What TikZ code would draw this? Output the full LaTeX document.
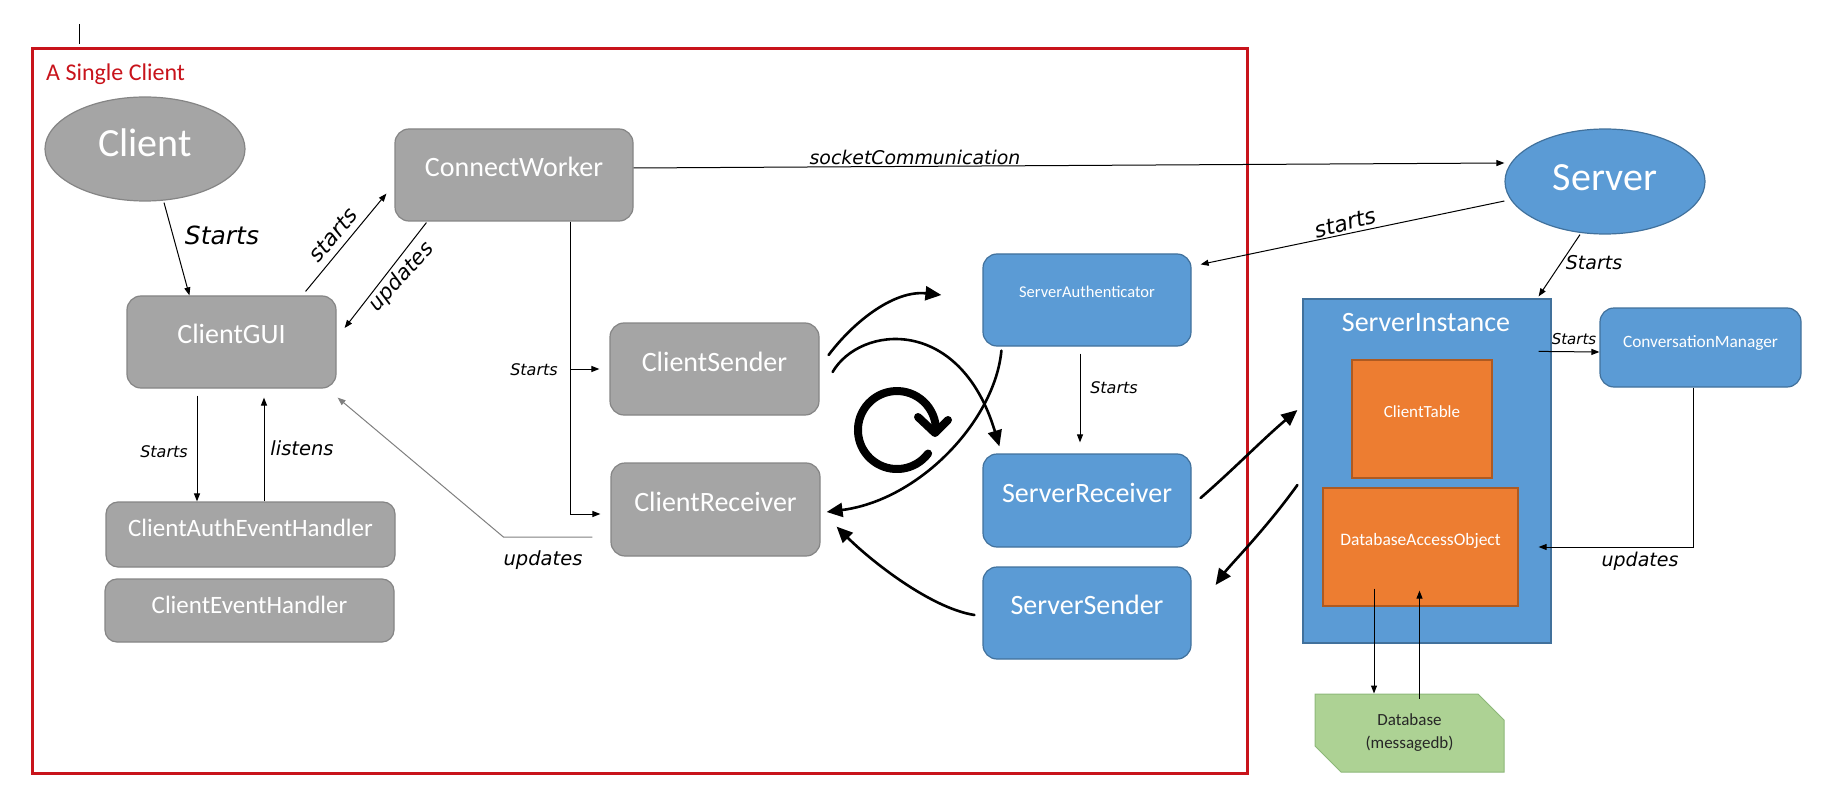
\documentclass[tikz,border=0pt]{standalone}
\usepackage{fontspec}
\setmainfont{Carlito}
\newfontfamily\hand{DejaVu Sans}
\usetikzlibrary{arrows.meta,shapes.geometric,shapes.misc,calc}
\definecolor{gfill}{HTML}{A5A5A5}
\definecolor{gdraw}{HTML}{858585}
\definecolor{bfill}{HTML}{5B9BD5}
\definecolor{bdraw}{HTML}{41719C}
\definecolor{ofill}{HTML}{ED7D31}
\definecolor{odraw}{HTML}{AE5A21}
\definecolor{dbfill}{HTML}{ADD294}
\definecolor{dbdraw}{HTML}{8DB879}
\definecolor{dbtext}{HTML}{262626}
\definecolor{frame}{HTML}{C8131B}
\definecolor{linegray}{HTML}{7F7F7F}
\begin{document}
\begin{tikzpicture}[x=1pt,y=-1pt,
  tf/.style n args={3}{font=\fontsize{#1}{#1}\selectfont,text height=#2pt,text depth=#3pt},
  box/.style={rectangle,rounded corners=14pt,line width=1.2pt,text=white,inner sep=0pt,align=center},
  graybox/.style={box,fill=gfill,draw=gdraw},
  bluebox/.style={box,fill=bfill,draw=bdraw},
  orangebox/.style={rectangle,line width=1.2pt,text=white,inner sep=0pt,align=center,fill=ofill,draw=odraw},
  hw/.style={font=\hand\itshape\fontsize{#1}{#1}\selectfont,inner sep=0pt,text=black},
  conn/.style={line width=1pt,-{Triangle[length=8pt,width=6pt]}},
  hconn/.style={line width=2.6pt,line cap=round,-{Triangle[length=16pt,width=14pt]}}]
\useasboundingbox (0,0) rectangle (1844,810);

% cursor mark
\draw[line width=0.8pt] (79,24) -- (79,44);

% red frame
\node[draw=frame,line width=3pt,minimum width=1215pt,minimum height=724pt,inner sep=0pt] (frm) at (639.5,411) {};
\node[anchor=base west,inner sep=0pt,text=frame,font=\fontsize{24}{24}\selectfont] (frmtitle) at (46,81) {A Single Client};

% client side
\node[ellipse,fill=gfill,draw=gdraw,line width=1.2pt,text=white,inner sep=0pt,minimum width=200pt,minimum height=104pt,tf={40}{26}{10}] (client) at (145,149) {Client};
\node[graybox,tf={28}{18}{14},minimum width=238pt,minimum height=92pt] (cw) at (514,175) {ConnectWorker};
\node[graybox,tf={28}{18}{16},minimum width=209pt,minimum height=92pt] (gui) at (231.5,342) {ClientGUI};
\node[graybox,tf={28}{18}{14},minimum width=209pt,minimum height=92pt] (cs) at (714.5,369) {ClientSender};
\node[graybox,tf={28}{18}{15},minimum width=209pt,minimum height=93pt] (cr) at (715.5,509.5) {ClientReceiver};
\node[graybox,rounded corners=12pt,tf={25}{16}{13},minimum width=289pt,minimum height=65pt] (cae) at (250.5,534.5) {ClientAuthEventHandler};
\node[graybox,rounded corners=12pt,tf={25}{16}{11},minimum width=289pt,minimum height=63pt] (ceh) at (249.5,610.5) {ClientEventHandler};

% server side
\node[bluebox,tf={16.5}{11}{16},minimum width=208pt,minimum height=92pt] (sa) at (1087,300) {ServerAuthenticator};
\node[bluebox,tf={28}{18}{15},minimum width=208pt,minimum height=93pt] (sr) at (1087,500.5) {ServerReceiver};
\node[bluebox,tf={28}{18}{16},minimum width=208pt,minimum height=92pt] (ss) at (1087,613) {ServerSender};
\node[ellipse,fill=bfill,draw=bdraw,line width=1.2pt,text=white,inner sep=0pt,minimum width=200pt,minimum height=105pt,tf={40}{26}{7}] (server) at (1605,181.5) {Server};
\node[rectangle,fill=bfill,draw=bdraw,line width=1.2pt,inner sep=0pt,minimum width=248pt,minimum height=344pt] (si) at (1427,471) {};
\node[anchor=base,inner sep=0pt,text=white,font=\fontsize{28}{28}\selectfont] (sititle) at ($(si.north)+(-1,33)$) {ServerInstance};
\node[orangebox,tf={17}{11}{14},minimum width=140pt,minimum height=118pt] (ct) at (1422,419) {ClientTable};
\node[orangebox,tf={17.5}{11}{14},minimum width=195pt,minimum height=118pt] (dao) at (1420.5,547) {DatabaseAccessObject};
\node[bluebox,tf={17.3}{11}{11},minimum width=201pt,minimum height=79pt] (cm) at (1700.5,347.5) {ConversationManager};
\node[chamfered rectangle,chamfered rectangle corners={north east,south west},chamfered rectangle xsep=13pt,chamfered rectangle ysep=13pt,
  fill=dbfill,draw=dbdraw,line width=1pt,inner sep=0pt,minimum width=189pt,minimum height=78pt,
  text=dbtext,align=center,font=\fontsize{17}{23}\selectfont] (db) at (1409.5,733) {Database\\(messagedb)};

% thin connectors
\draw[conn] ($(client.south)+(19,1)$) -- ($(gui.north west)+(63,0)$);
\draw[conn] ($(gui.north east)+(-31,-4)$) -- ($(cw.south west)+(-8,-28)$);
\draw[conn] ($(cw.south west)+(32,1)$) -- ($(gui.east)+(8,-14)$);
\coordinate (cwb) at ($(cw.south)+(56,0)$);
\draw[conn,shorten >=10pt] (cwb) |- (cs.west);
\draw[conn,shorten >=10pt] (cwb) |- ($(cr.west)+(0,4.5)$);
\draw[conn,draw=linegray] ($(cr.west)+(-18,27.5)$) -- ++(-89,0) -- ($(gui.south east)+(1,9)$);
\draw[conn] ($(gui.south)+(-34.5,7)$) -- ($(cae.north)+(-53.5,0)$);
\draw[conn] ($(cae.north)+(13.5,0)$) -- ($(gui.south)+(32.5,9)$);
\draw[conn] ($(cw.east)+(0,-7)$) -- ($(server.west)+(0,-18.5)$);
\draw[conn] ($(server.west)+(0,19.5)$) -- ($(sa.north east)+(9,11)$);
\draw[conn] ($(server.south)+(-25,0)$) -- ($(si.north east)+(-13,-2)$);
\draw[conn] ($(si.north east)+(-13,53)$) -- ($(cm.west)+(0,4.5)$);
\draw[conn] ($(cm.south)+(-7.5,0)$) |- ($(si.east)+(-13,76)$);
\draw[conn] ($(sa.south)+(-7,7)$) -- ($(sr.north)+(-7,-11)$);
\draw[conn] ($(dao.south)+(-46.5,-18)$) -- ($(db.north)+(-35.5,0)$);
\draw[conn] ($(db.north)+(10,5)$) -- ($(dao.south)+(-1,-16)$);

% thick hand-drawn connectors
\draw[hconn] ($(cs.east)+(9,-14)$) .. controls (855,320) and (895,290) .. ($(sa.west)+(-41,-5)$);
\draw[hconn] ($(cs.east)+(13,3)$) .. controls (860,325) and (960,315) .. ($(sr.north west)+(17,-7)$);
\draw[hconn] ($(sa.south west)+(19,4)$) .. controls (995,420) and (920,500) .. ($(cr.east)+(6,2.5)$);
\draw[hconn] ($(ss.west)+(-8,2)$) .. controls (930,608) and (870,560) .. ($(cr.south east)+(16,-30)$);
\draw[hconn] ($(sr.east)+(9,-2.5)$) .. controls (1235,468) and (1262,440) .. ($(si.west)+(-5,-61)$);
\draw[hconn] ($(si.west)+(-5,14)$) .. controls (1265,530) and (1230,565) .. ($(ss.east)+(24,-28)$);

% circular arrow icon
\draw[line width=8pt,line cap=round] (928.1,453.5) arc[start angle=37,end angle=355,radius=39];
\draw[line width=8pt,line cap=round,line join=round] (918,417) -- (935,433) -- (948,420);

% hand-written labels
\node[hw=25] (l1) at (222,235) {Starts};
\node[hw=22,rotate=50] (l2) at (333,235) {starts};
\node[hw=21,rotate=48] (l3) at (402,277) {updates};
\node[hw=16] (l4) at (534,370) {Starts};
\node[hw=18.9] (l5) at (915,157) {socketCommunication};
\node[hw=16] (l6) at (164,452) {Starts};
\node[hw=19.5] (l7) at (302,448) {listens};
\node[hw=19.5] (l8) at (543,560) {updates};
\node[hw=22,rotate=15] (l9) at (1345,223) {starts};
\node[hw=19] (l10) at (1594,263) {Starts};
\node[hw=16] (l11) at (1114,388) {Starts};
\node[hw=15] (l12) at (1574,339) {Starts};
\node[hw=19] (l13) at (1640,561) {updates};
\end{tikzpicture}
\end{document}
